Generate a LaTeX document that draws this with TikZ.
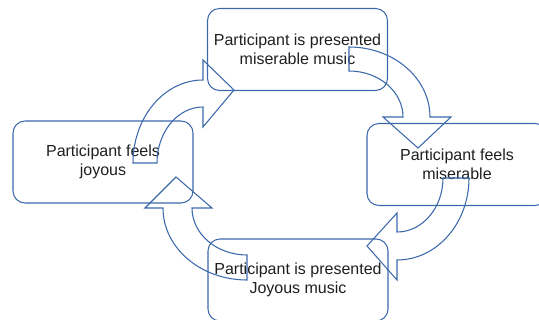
\documentclass[tikz,border=0pt]{standalone}
\usepackage{fontspec}
\setmainfont{Liberation Sans}
\usepackage{tikz}

\definecolor{arrowblue}{RGB}{60,105,172}

\begin{document}
\begin{tikzpicture}[x=0.75pt,y=0.75pt,yscale=-1,xscale=1,
    stagebox/.style={draw=arrowblue, line width=0.8pt, rounded corners=9pt,
        minimum width=135pt, minimum height=61.5pt, align=center,
        text=black!88, font=\fontsize{12}{14.6}\selectfont},
    blockarrow/.style={draw=arrowblue, line width=0.8pt, line join=miter}]
    \useasboundingbox (0,0) rectangle (539,320);
    \clip (0,0) rectangle (539,320);

    % Text Node
    \node [stagebox] (presMiserable) at (297.5,49.5) {Participant is presented\\miserable music};
    % Text Node
    \node [stagebox] (feelsMiserable) at (457,164.5) {Participant feels\\miserable};
    % Text Node
    \node [stagebox] (presJoyous) at (298,280) {Participant is presented\\Joyous music};
    % Text Node
    \node [stagebox] (feelsJoyous) at (103,162) {Participant feels\\joyous};

    %Shape: Curved Arrow (joyous to miserable music)
    \draw [blockarrow] (133,163) arc [start angle=180, end angle=270, x radius=70, y radius=83]
        -- (203,60) -- (234,90) -- (203,127) -- (203,107)
        arc [start angle=270, end angle=180, x radius=46, y radius=56] -- cycle ;
    %Shape: Curved Arrow (miserable music to feels miserable)
    \draw [blockarrow] (349,47) arc [start angle=-90, end angle=0, x radius=81, y radius=70]
        -- (451,117) -- (418,148) -- (383,117) -- (403,117)
        arc [start angle=0, end angle=-90, x radius=54, y radius=46] -- cycle ;
    %Shape: Curved Arrow (feels miserable to joyous music)
    \draw [blockarrow] (469,178) arc [start angle=0, end angle=90, x radius=72, y radius=82]
        -- (397,280) -- (367,246) -- (397,213) -- (397,232)
        arc [start angle=90, end angle=0, x radius=46, y radius=54] -- cycle ;
    %Shape: Curved Arrow (joyous music to feels joyous)
    \draw [blockarrow] (247,280) arc [start angle=90, end angle=180, x radius=84, y radius=72]
        -- (145,208) -- (176,177) -- (212,208) -- (192,208)
        arc [start angle=180, end angle=90, x radius=55, y radius=47] -- cycle ;

\end{tikzpicture}
\end{document}
